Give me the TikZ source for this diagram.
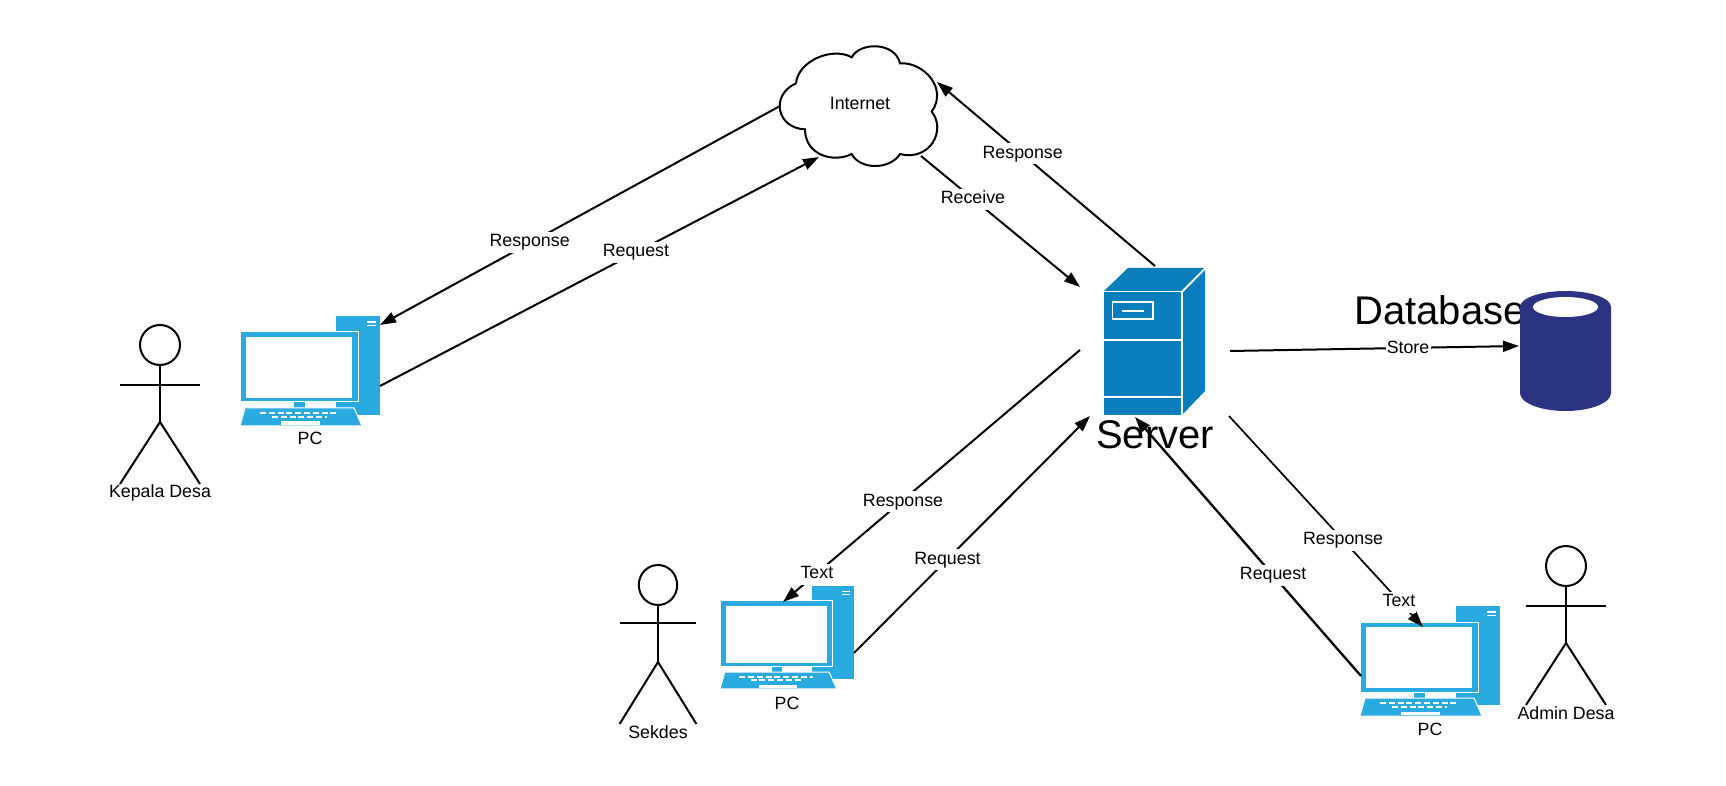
\documentclass[tikz,border=0pt]{standalone}
\usepackage{fontspec}
\setmainfont{Liberation Sans}
\usetikzlibrary{arrows.meta}
\definecolor{pcblue}{HTML}{29ABE2}
\definecolor{srvblue}{HTML}{0A7DBD}
\definecolor{dbblue}{HTML}{2B3382}
\tikzset{
  conn/.style={line width=1pt,-{Triangle[length=8pt,width=5.5pt]}},
  lbl/.style={fill=white,inner xsep=0.6pt,inner ysep=1pt,text height=6.5pt,text depth=2pt,font=\fontsize{8.9}{10}\selectfont},
  txt/.style={inner sep=0pt,font=\fontsize{8.9}{10}\selectfont},
  bigtxt/.style={inner sep=0pt,font=\fontsize{20}{22}\selectfont},
  stick/.style={line width=1pt,black},
  pics/actor/.style={code={
    \draw[stick] (0,0) circle (20);
    \draw[stick] (0,20) -- (0,77);
    \draw[stick] (-40,#1) -- (40,#1);
    \draw[stick] (-40,139) -- (0,77) -- (40,139);
  }},
  pics/pcicon/.style={code={
    \fill[pcblue] (96,0) rectangle (140,99);
    \draw[white,line width=.6pt] (127,6) -- (136,6) (127,9.5) -- (136,9.5);
    \fill[pcblue,draw=white,line width=.5pt] (0,16) rectangle (118,86);
    \fill[white] (6,21) rectangle (112,82);
    \fill[pcblue] (54,86.5) rectangle (65,92);
    \fill[pcblue,draw=white,line width=.5pt] (5,92) -- (114,92) -- (122,110) -- (0,110) -- cycle;
    \draw[white,line width=1pt,dash pattern=on 3 off 1.4] (20,96.7) -- (97,96.7);
    \draw[white,line width=1pt,dash pattern=on 3 off 1.4] (32,100.7) -- (87,100.7);
    \fill[white] (41,105.5) rectangle (80,109);
  }}
}
\begin{document}
\begin{tikzpicture}[x=0.5pt,y=-0.5pt]
\useasboundingbox (0,0) rectangle (1726,786);
\fill[white] (0,0) rectangle (1726,786);

% cloud
\begin{scope}[shift={(760,30)},x=0.16667pt,y=-0.16667pt]
\draw[line width=1pt,fill=white] (108,160)
  .. controls (115,90) and (220,50) .. (275,82)
  .. controls (300,35) and (405,35) .. (420,100)
  .. controls (490,95) and (565,175) .. (515,245)
  .. controls (560,300) and (510,395) .. (420,372)
  .. controls (390,420) and (300,420) .. (275,372)
  .. controls (220,400) and (135,375) .. (135,298)
  .. controls (50,295) and (30,195) .. (108,160) -- cycle;
\end{scope}
\node[txt] (internet) at (860,103.5) {Internet};

% server
\fill[srvblue] (1104,291) -- (1128,268) -- (1204,268) -- (1181,291) -- cycle;
\fill[srvblue] (1104,292.5) rectangle (1181,415);
\fill[srvblue] (1183,292.5) -- (1205,270) -- (1205,391) -- (1183,414) -- cycle;
\draw[white,line width=.6pt] (1104,340) -- (1181,340) (1104,397) -- (1181,397);
\draw[white,line width=.6pt] (1112.5,302) rectangle (1153,319);
\draw[white,line width=.8pt] (1122,311) -- (1144,311);
\node[bigtxt] (serverlabel) at (1155,435) {Server};

% database
\node[bigtxt] (dblabel) at (1440,310) {Database};
\fill[dbblue] (1520,307) arc[start angle=180,end angle=360,x radius=45.5,y radius=16]
  -- (1611,393) arc[start angle=0,end angle=180,x radius=45.5,y radius=18] -- cycle;
\fill[white] (1565.5,307) ellipse[x radius=32.5,y radius=10];

% computers and actors
\pic (pcone) at (240,316) {pcicon};
\pic (pctwo) at (720,586) [xscale=.957,yscale=.936] {pcicon};
\pic (pcthree) at (1360,606) {pcicon};
\pic (actorone) at (160,345) {actor=40};
\pic (actortwo) at (658,585) [xscale=.96] {actor=38};
\pic (actorthree) at (1566,566) {actor=40};
\node[txt] (namea) at (160,493) {Kepala Desa};
\node[txt] (nameb) at (658,732.5) {Sekdes};
\node[txt] (namec) at (1566,713) {Admin Desa};
\node[txt] (pca) at (310,438) {PC};
\node[txt] (pcb) at (787,703) {PC};
\node[txt] (pcc) at (1430,729) {PC};

% connector ends
\coordinate (cloudW) at (780,106);
\coordinate (cloudS) at (819,157);
\coordinate (cloudE) at (937,82);
\coordinate (cloudSE) at (921,156);
\coordinate (pcaIn) at (380,325);
\coordinate (pcaOut) at (380,386);
\coordinate (pcbIn) at (783,602);
\coordinate (pcbOut) at (854,653);
\coordinate (pccIn) at (1423,627);
\coordinate (pccOut) at (1361,676);
\coordinate (srvTop) at (1155,266);
\coordinate (srvRecv) at (1080,287);
\coordinate (srvStore) at (1230,351);
\coordinate (srvLeftOut) at (1080,350);
\coordinate (srvLeftIn) at (1090,416);
\coordinate (srvBotIn) at (1135,417);
\coordinate (srvBotOut) at (1229,416);
\coordinate (dbIn) at (1519,346);

% connectors
\draw[conn] (cloudW) -- node[lbl,pos=.626,yshift=.5pt] (l1) {Response} (pcaIn);
\draw[conn] (pcaOut) -- node[lbl,pos=.583] (l2) {Request} (cloudS);
\draw[conn] (srvTop) -- node[lbl,pos=.607,yshift=.2pt] (l3) {Response} (cloudE);
\draw[conn] (cloudSE) -- node[lbl,pos=.327,yshift=-.15pt] (l4) {Receive} (srvRecv);
\draw[conn] (srvStore) -- node[lbl,pos=.616,yshift=-.55pt] (l5) {Store} (dbIn);
\draw[conn] (srvLeftOut) -- node[lbl,pos=.596,yshift=-.8pt] (l6) {Response} node[lbl,pos=.886,yshift=-.5pt] (l7) {Text} (pcbIn);
\draw[conn] (pcbOut) -- node[lbl,pos=.396,yshift=-.4pt] (l8) {Request} (srvLeftIn);
\draw[conn,line width=1.15pt] (pccOut) -- node[lbl,pos=.389] (l9) {Request} (srvBotIn);
\draw[conn,line width=.85pt] (srvBotOut) -- node[lbl,pos=.588] (l10) {Response} node[lbl,pos=.876,yshift=-.6pt] (l11) {Text} (pccIn);
\end{tikzpicture}
\end{document}
